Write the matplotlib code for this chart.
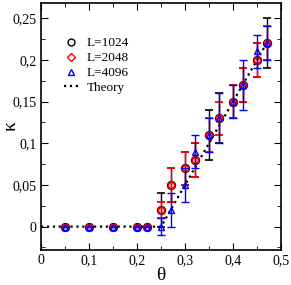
import numpy as np
import matplotlib.pyplot as plt
from matplotlib.lines import Line2D
from matplotlib.ticker import MultipleLocator, FuncFormatter

plt.rcParams['font.family'] = ['Liberation Serif', 'DejaVu Serif']

theta = [0.05, 0.1, 0.15, 0.2, 0.22, 0.25, 0.27, 0.30, 0.32, 0.35, 0.37, 0.40, 0.42, 0.45, 0.47]

k1024 = [0, 0, 0, 0, 0, 0.02, 0.05, 0.07, 0.08, 0.11, 0.13, 0.15, 0.17, 0.20, 0.22]
e1024 = [0, 0, 0, 0, 0, 0.02, 0.02, 0.02, 0.02, 0.03, 0.03, 0.02, 0.02, 0.02, 0.03]

k2048 = [0, 0, 0, 0, 0, 0.02, 0.05, 0.07, 0.08, 0.11, 0.13, 0.15, 0.17, 0.20, 0.22]
e2048 = [0, 0, 0, 0, 0, 0.01, 0.02, 0.02, 0.02, 0.02, 0.02, 0.02, 0.02, 0.02, 0.02]

k4096 = [0, 0, 0, 0, 0, 0.0, 0.02, 0.05, 0.09, 0.11, 0.13, 0.15, 0.17, 0.21, 0.22]
e4096 = [0, 0, 0, 0, 0, 0.01, 0.02, 0.02, 0.02, 0.02, 0.03, 0.02, 0.03, 0.02, 0.02]

theory_t = [0.0, 0.25, 0.47]
theory_k = [0.0, 0.0, 0.22]

fig = plt.figure(figsize=(2.91, 2.85), dpi=100)
ax = fig.add_axes([0.141, 0.123, 0.825, 0.866])

ax.plot(theory_t, theory_k, ':', color='black', lw=1.6, zorder=1)

ax.errorbar(theta, k1024, yerr=e1024, fmt='o', color='black', mfc='none', ms=5.5,
            mew=1.2, capsize=3, elinewidth=1, capthick=1, zorder=2)
ax.errorbar(theta, k2048, yerr=e2048, fmt='o', color='red', mfc='none', ms=4.5,
            mew=1.3, capsize=3, elinewidth=1, capthick=1, zorder=3)
ax.errorbar(theta, k4096, yerr=e4096, fmt='^', color='blue', mfc='none', ms=5,
            mew=1, capsize=3, elinewidth=1, capthick=1, zorder=4)

handles = [
    Line2D([], [], ls='none', marker='o', color='black', mfc='none', ms=5),
    Line2D([], [], ls='none', marker='D', color='red', mfc='none', ms=4),
    Line2D([], [], ls='none', marker='^', color='blue', mfc='none', ms=5),
    Line2D([], [], ls=':', color='black', lw=1.6),
]
ax.legend(handles, ['L=1024', 'L=2048', 'L=4096', 'Theory'], loc='upper left',
          bbox_to_anchor=(0.045, 0.91), frameon=False, fontsize=9.5,
          handlelength=1.15, labelspacing=0.2, handletextpad=0.6)

ax.set_xlim(0, 0.5)
ax.set_ylim(-0.028, 0.268)
ax.xaxis.set_major_locator(MultipleLocator(0.1))
ax.xaxis.set_minor_locator(MultipleLocator(0.05))
ax.yaxis.set_major_locator(MultipleLocator(0.05))
ax.yaxis.set_minor_locator(MultipleLocator(0.025))

fmt = FuncFormatter(lambda v, p: ('%g' % round(v, 3)).replace('.', ','))
ax.xaxis.set_major_formatter(fmt)
ax.yaxis.set_major_formatter(fmt)

ax.tick_params(which='both', direction='in', top=True, right=True, labelsize=10, pad=3)
ax.tick_params(which='major', length=5)
ax.tick_params(which='minor', length=3)
for s in ax.spines.values():
    s.set_linewidth(1.2)

ax.set_xlabel('θ', fontsize=14, va='center')
ax.set_ylabel('κ', fontsize=14, va='center')
ax.xaxis.set_label_coords(0.5, -0.105)
ax.yaxis.set_label_coords(-0.125, 0.5)

fig.savefig('out.png', dpi=100)
